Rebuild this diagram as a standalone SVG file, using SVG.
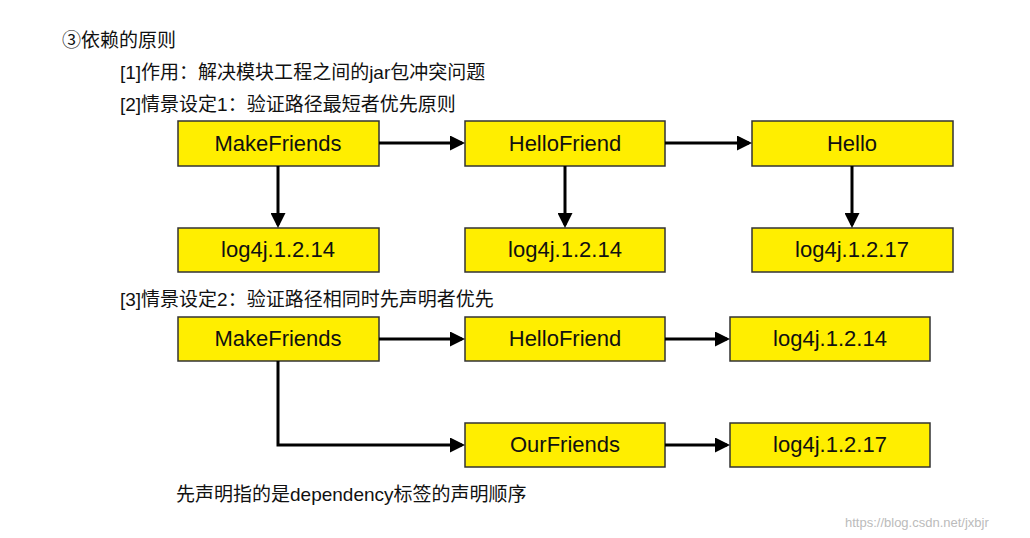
<svg xmlns="http://www.w3.org/2000/svg" width="1030" height="538" viewBox="0 0 1030 538">
<style>
.b{fill:#FFEE00;stroke:#333;stroke-width:1.5}
.bt{font-family:"Liberation Sans",Arial,sans-serif;font-size:22px;fill:#111;text-anchor:middle}
.t{font-family:"Liberation Sans","Noto Sans CJK SC",sans-serif;font-size:19px;fill:#111}
.c{fill:none;stroke:#000;stroke-width:3;marker-end:url(#a)}
</style>
<defs><marker id="a" markerWidth="5" markerHeight="5" refX="4" refY="2.5" orient="auto"><path d="M0,0L5,2.5L0,5z" fill="#000"/></marker></defs>
<rect width="1030" height="538" fill="#fff"/>
<text class="t" x="62" y="47">③依赖的原则</text>
<text class="t" x="120" y="79">[1]作用：解决模块工程之间的jar包冲突问题</text>
<text class="t" x="120" y="111">[2]情景设定1：验证路径最短者优先原则</text>
<text class="t" x="120" y="306">[3]情景设定2：验证路径相同时先声明者优先</text>
<text class="t" x="176" y="501">先声明指的是dependency标签的声明顺序</text>
<text x="845" y="527" font-family="Liberation Sans,sans-serif" font-size="13" fill="#bbb">https://blog.csdn.net/jxbjr</text>
<g id="n1"><rect class="b" x="178" y="121" width="201" height="45"/><text class="bt" x="278" y="151">MakeFriends</text></g>
<g id="n2"><rect class="b" x="465" y="121" width="200" height="45"/><text class="bt" x="565" y="151">HelloFriend</text></g>
<g id="n3"><rect class="b" x="752" y="121" width="201" height="45"/><text class="bt" x="852" y="151">Hello</text></g>
<g id="n4"><rect class="b" x="178" y="228" width="201" height="44"/><text class="bt" x="278" y="257">log4j.1.2.14</text></g>
<g id="n5"><rect class="b" x="465" y="228" width="200" height="44"/><text class="bt" x="565" y="257">log4j.1.2.14</text></g>
<g id="n6"><rect class="b" x="752" y="228" width="201" height="44"/><text class="bt" x="852" y="257">log4j.1.2.17</text></g>
<g id="n7"><rect class="b" x="178" y="317" width="201" height="44"/><text class="bt" x="278" y="346">MakeFriends</text></g>
<g id="n8"><rect class="b" x="465" y="317" width="200" height="44"/><text class="bt" x="565" y="346">HelloFriend</text></g>
<g id="n9"><rect class="b" x="730" y="317" width="200" height="44"/><text class="bt" x="830" y="346">log4j.1.2.14</text></g>
<g id="n10"><rect class="b" x="465" y="423" width="200" height="44"/><text class="bt" x="565" y="452">OurFriends</text></g>
<g id="n11"><rect class="b" x="730" y="423" width="200" height="44"/><text class="bt" x="830" y="452">log4j.1.2.17</text></g>
<g id="connectors">
<path class="c" d="M379,143H462"/>
<path class="c" d="M665,143H749"/>
<path class="c" d="M278,166V225"/>
<path class="c" d="M565,166V225"/>
<path class="c" d="M852,166V225"/>
<path class="c" d="M379,339H462"/>
<path class="c" d="M665,339H727"/>
<path class="c" d="M278,361V445H462"/>
<path class="c" d="M665,445H727"/>
</g>
</svg>
